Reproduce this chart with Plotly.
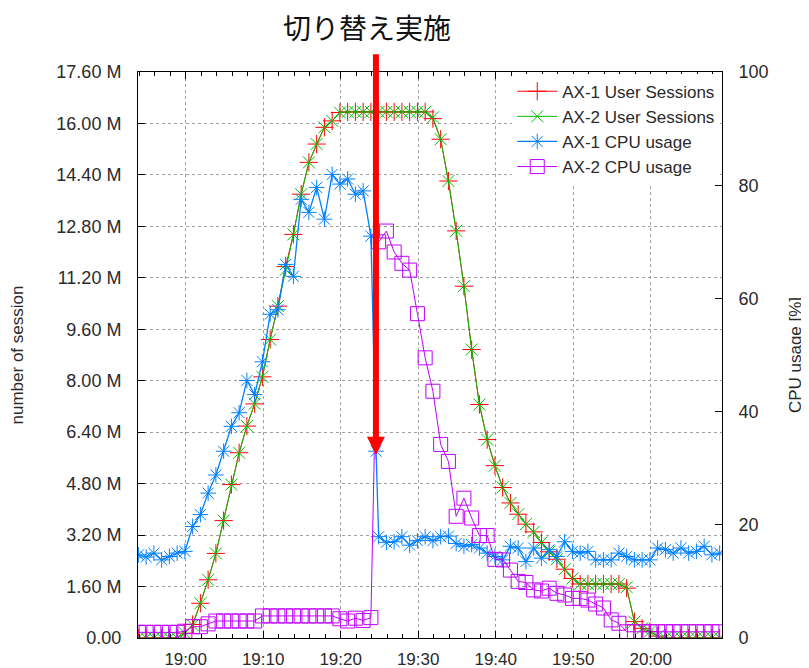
import pandas as pd
import plotly.graph_objects as go

# ---- data ----
start_time = "2014-01-01 18:53:54"
n_samples = 76

ax1_sessions_m = [0, 0, 0, 0, 0, 0, 0.15, 0.42, 1.08, 1.81, 2.63, 3.65, 4.77, 5.76, 6.59, 7.28,
                  8.12, 9.28, 10.32, 11.55, 12.55, 13.80, 14.79, 15.36, 15.88, 16.08, 16.34,
                  16.36, 16.36, 16.36, 16.36, 16.36, 16.36, 16.36, 16.36, 16.36, 16.36, 16.36,
                  16.15, 15.51, 14.21, 12.66, 10.94, 8.97, 7.26, 6.17, 5.36, 4.68, 4.20, 3.85,
                  3.54, 3.30, 2.97, 2.68, 2.45, 2.14, 1.85, 1.68, 1.68, 1.68, 1.68, 1.68, 1.68,
                  1.55, 0.51, 0.30, 0.20, 0.06, 0, 0, 0, 0, 0, 0, 0, 0]

ax2_sessions_m = [0, 0, 0, 0, 0, 0, 0.15, 0.40, 1.08, 1.81, 2.63, 3.65, 4.77, 5.76, 6.59, 7.28,
                  8.12, 9.28, 10.32, 11.45, 12.55, 13.80, 14.79, 15.36, 15.88, 16.08, 16.34,
                  16.36, 16.36, 16.36, 16.36, 16.36, 16.36, 16.36, 16.36, 16.36, 16.36, 16.36,
                  16.19, 15.51, 14.21, 12.66, 10.94, 8.97, 7.26, 6.17, 5.36, 4.68, 4.20, 3.85,
                  3.54, 3.30, 2.97, 2.68, 2.45, 2.14, 1.85, 1.68, 1.68, 1.68, 1.68, 1.68, 1.68,
                  1.58, 0.51, 0.30, 0.20, 0.06, 0, 0, 0, 0, 0, 0, 0, 0]

ax1_cpu = [14.7, 14.3, 15.0, 13.8, 14.4, 15.0, 15.3, 19.7, 21.8, 25.6, 28.8, 33.0, 37.4, 39.8,
           45.5, 43.0, 48.8, 57.2, 58.0, 66.0, 63.9, 77.5, 75.2, 79.6, 74.0, 81.9, 80.2, 81.1,
           78.4, 79.0, 71.0, 17.9, 16.9, 17.0, 17.9, 16.4, 17.2, 17.9, 17.2, 17.9, 18.0, 16.7,
           16.2, 16.5, 15.9, 15.0, 14.4, 13.8, 16.2, 15.9, 13.5, 15.9, 14.1, 15.6, 14.4, 17.0,
           15.3, 15.0, 15.3, 13.8, 13.8, 13.8, 15.0, 14.4, 13.8, 13.8, 13.8, 15.9, 15.6, 15.0,
           15.9, 15.0, 15.3, 16.2, 14.7, 15.0]
# extra AX-1 sample logged at the moment of the switch-over
ax1_switch_time = "2014-01-01 19:24:34"
ax1_switch_cpu = 33.0
ax1_switch_index = 31

ax2_cpu = [1.0, 1.0, 1.0, 1.0, 1.0, 1.0, 1.2, 2.0, 2.0, 2.5, 3.0, 3.0, 3.0, 3.0, 3.0, 3.0,
           3.9, 3.9, 3.9, 3.9, 3.9, 3.9, 3.9, 3.9, 3.9, 3.9, 3.4, 3.0, 3.5, 3.1, 3.6,
           70.0, 71.9, 68.2, 66.2, 65.0, 57.3, 49.5, 43.6, 34.2, 31.2, 21.5, 24.7, 21.2, 18.1,
           18.1, 13.9, 13.8, 12.0, 10.0, 9.8, 8.5, 8.3, 8.8, 7.9, 7.6, 7.0, 7.0, 6.7, 6.0, 5.3,
           3.2, 2.6, 1.1, 1.1, 1.1, 1.1, 1.1, 1.1, 1.1, 1.1, 1.1, 1.1, 1.1, 1.1, 1.1]

session_tickvals = [0, 1.6, 3.2, 4.8, 6.4, 8.0, 9.6, 11.2, 12.8, 14.4, 16.0, 17.6]
session_ticktext = ["0.00", "1.60 M", "3.20 M", "4.80 M", "6.40 M", "8.00 M", "9.60 M",
                    "11.20 M", "12.80 M", "14.40 M", "16.00 M", "17.60 M"]
cpu_tickvals = [0, 20, 40, 60, 80, 100]

x_range = ["2014-01-01 18:53:51", "2014-01-01 20:09:12"]
switch_arrow_time = "2014-01-01 19:24:33"
switch_arrow_value_m = 5.70
title_text = "切り替え実施"

# ---- build ----
times = list(pd.date_range(start_time, periods=n_samples, freq="min"))
blue_times = times[:ax1_switch_index] + [pd.Timestamp(ax1_switch_time)] + times[ax1_switch_index:]
blue_vals = ax1_cpu[:ax1_switch_index] + [ax1_switch_cpu] + ax1_cpu[ax1_switch_index:]

RED, GREEN, BLUE, PURPLE = "#ff0000", "#00c000", "#0080ff", "#c000ff"
FONT = "Liberation Sans, Arial, sans-serif"
TXT = "#2a2a2a"
W, H = 809, 668
OFF = 8  # the page places the figure 8px in from the top-left corner

fig = go.Figure()
fig.add_trace(go.Scatter(
    x=times, y=ax1_sessions_m, name="AX-1 User Sessions", mode="lines+markers",
    line=dict(color=RED, width=1),
    marker=dict(symbol="cross-thin-open", size=13, color=RED, line=dict(color=RED, width=1)),
    yaxis="y"))
fig.add_trace(go.Scatter(
    x=times, y=ax2_sessions_m, name="AX-2 User Sessions", mode="lines+markers",
    line=dict(color=GREEN, width=1),
    marker=dict(symbol="x-thin-open", size=12, color=GREEN, line=dict(color=GREEN, width=1)),
    yaxis="y"))
fig.add_trace(go.Scatter(
    x=blue_times, y=blue_vals, name="AX-1 CPU usage", mode="lines+markers",
    line=dict(color=BLUE, width=1.3),
    marker=dict(symbol="asterisk-open", size=13, color=BLUE, line=dict(color=BLUE, width=1)),
    yaxis="y2"))
fig.add_trace(go.Scatter(
    x=times, y=ax2_cpu, name="AX-2 CPU usage", mode="lines+markers",
    line=dict(color=PURPLE, width=1),
    marker=dict(symbol="square-open", size=14, color=PURPLE, line=dict(color=PURPLE, width=1)),
    yaxis="y2"))

grid = dict(showgrid=True, gridcolor="#a0a0a0", griddash="dot", gridwidth=1)

fig.update_layout(
    width=W, height=H,
    margin=dict(l=138 - OFF, r=W - (722 - OFF), t=72 - OFF, b=H - (638 - OFF), autoexpand=False),
    paper_bgcolor="white", plot_bgcolor="white",
    font=dict(family=FONT, size=18, color=TXT),
    showlegend=True,
    legend=dict(x=0.997, y=0.997, xanchor="right", yanchor="top", bgcolor="white",
                font=dict(family=FONT, size=17, color=TXT),
                tracegroupgap=0, itemwidth=40),
    title=dict(text=title_text, x=(367 - OFF) / W, xref="container", xanchor="center",
               y=1 - (29 - OFF) / H, yref="container", yanchor="middle",
               font=dict(family="Noto Sans CJK JP", size=28, color="#111111")),
    xaxis=dict(type="date", range=x_range, tickformat="%H:%M", dtick=600000,
               tick0="2014-01-01 19:00:00", ticks="inside", ticklen=7, tickcolor="black",
               showline=True, linecolor="black", linewidth=1, mirror="ticks",
               ticklabelstandoff=6, zeroline=False, automargin=False,
               tickfont=dict(size=17),
               minor=dict(dtick=120000, tick0="2014-01-01 19:00:00", ticks="inside",
                          ticklen=4, tickcolor="black", showgrid=False),
               **grid),
    yaxis=dict(range=[0, 17.6], tickvals=session_tickvals, ticktext=session_ticktext,
               ticks="inside", ticklen=7, tickcolor="black",
               showline=True, linecolor="black", linewidth=1, zeroline=False,
               ticklabelstandoff=12, automargin=False,
               title=dict(text="number of session", standoff=28,
                          font=dict(family=FONT, size=17, color=TXT)),
               **grid),
    yaxis2=dict(range=[0, 100], tickvals=cpu_tickvals, overlaying="y", side="right",
                ticks="inside", ticklen=7, tickcolor="black", showgrid=False,
                showline=True, linecolor="black", linewidth=1, zeroline=False,
                ticklabelstandoff=12, automargin=False,
                title=dict(text="CPU usage [%]", standoff=21,
                           font=dict(family=FONT, size=17, color=TXT))),
)

fig.add_annotation(x=switch_arrow_time, y=switch_arrow_value_m, xref="x", yref="y",
                   text="", showarrow=True, ax=0, ay=-402, axref="pixel", ayref="pixel",
                   arrowcolor=RED, arrowwidth=6, arrowhead=2, arrowsize=0.6, standoff=0)

fig.write_html("out.html")
